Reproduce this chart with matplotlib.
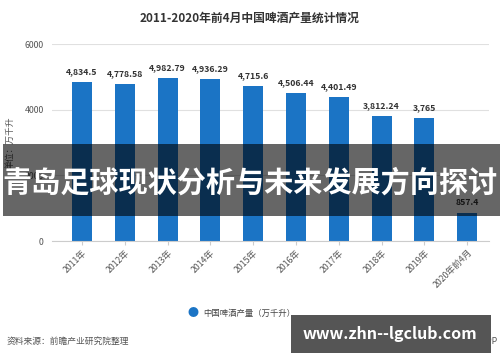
import numpy as np
import matplotlib.pyplot as plt
from matplotlib.patches import Rectangle

plt.rcParams['font.family'] = ['Noto Sans CJK SC', 'DejaVu Sans']

# data
years = ['2011年', '2012年', '2013年', '2014年', '2015年', '2016年',
         '2017年', '2018年', '2019年', '2020年前4月']
output = [4834.5, 4778.58, 4982.79, 4936.29, 4715.6, 4506.44,
          4401.49, 3812.24, 3765, 857.4]
labels = ['4,834.5', '4,778.58', '4,982.79', '4,936.29', '4,715.6',
          '4,506.44', '4,401.49', '3,812.24', '3,765', '857.4']
yticks = [0, 2000, 4000, 6000]

blue = '#1b74c5'

fig = plt.figure(figsize=(5, 3.62), dpi=100)
ax = fig.add_axes([0.104, 0.334, 0.874, 0.544])

x = np.arange(len(years))
ax.bar(x, output, width=0.47, color=blue, zorder=2)
for xi, v, s in zip(x, output, labels):
    ax.text(xi, v + 180, s, ha='center', va='bottom', fontsize=6.3,
            fontweight='bold', color='#333333')

ax.set_xlim(-0.7, 9.51)
ax.set_ylim(0, 6000)
ax.set_yticks(yticks)
ax.set_yticklabels([str(t) for t in yticks], fontsize=6.3, color='#555555')
ax.set_xticks(x)
ax.set_xticklabels(years, rotation=45, ha='right', rotation_mode='anchor',
                   fontsize=6.3, color='#555555')
ax.tick_params(axis='y', length=0, pad=6)
ax.tick_params(axis='x', length=3, color='#cccccc', pad=2)
ax.grid(axis='y', color='#e0e0e0', linewidth=0.8, zorder=0)
for sp in ['top', 'right', 'left']:
    ax.spines[sp].set_visible(False)
ax.spines['bottom'].set_color('#cccccc')
ax.set_ylabel('单位：万千升', fontsize=6.3, color='#555555')
ax.yaxis.set_label_coords(-0.085, 0.5)

fig.text(0.5, 0.95, '2011-2020年前4月中国啤酒产量统计情况', ha='center',
         va='center', fontsize=8.5, fontweight='bold', color='#333333')

# legend
fig.text(0.386, 0.135, '●', ha='center', va='center', fontsize=8, color=blue)
fig.text(0.406, 0.135, '中国啤酒产量（万千升）', ha='left', va='center',
         fontsize=6, color='#444444')

# source
fig.text(0.014, 0.058, '资料来源：前瞻产业研究院整理', ha='left', va='center',
         fontsize=6.3, color='#555555')
fig.text(0.995, 0.058, '@前瞻经济学人APP', ha='right', va='center',
         fontsize=6.3, color='#555555')

# overlay banner
fig.patches.append(Rectangle((0.006, 0.403), 0.994, 0.199, transform=fig.transFigure,
                             facecolor='black', alpha=0.6, zorder=5))
fig.text(0.5, 0.495, '青岛足球现状分析与未来发展方向探讨', ha='center', va='center',
         fontsize=21, fontweight='bold', color='white', zorder=6)

# watermark box
fig.patches.append(Rectangle((0.582, 0.025), 0.4, 0.105, transform=fig.transFigure,
                             facecolor='#555555', zorder=5))
fig.text(0.78, 0.077, 'www.zhn--lgclub.com', ha='center', va='center',
         fontsize=11.5, fontweight='bold', color='white', zorder=6)

plt.savefig('out.png', dpi=100)
